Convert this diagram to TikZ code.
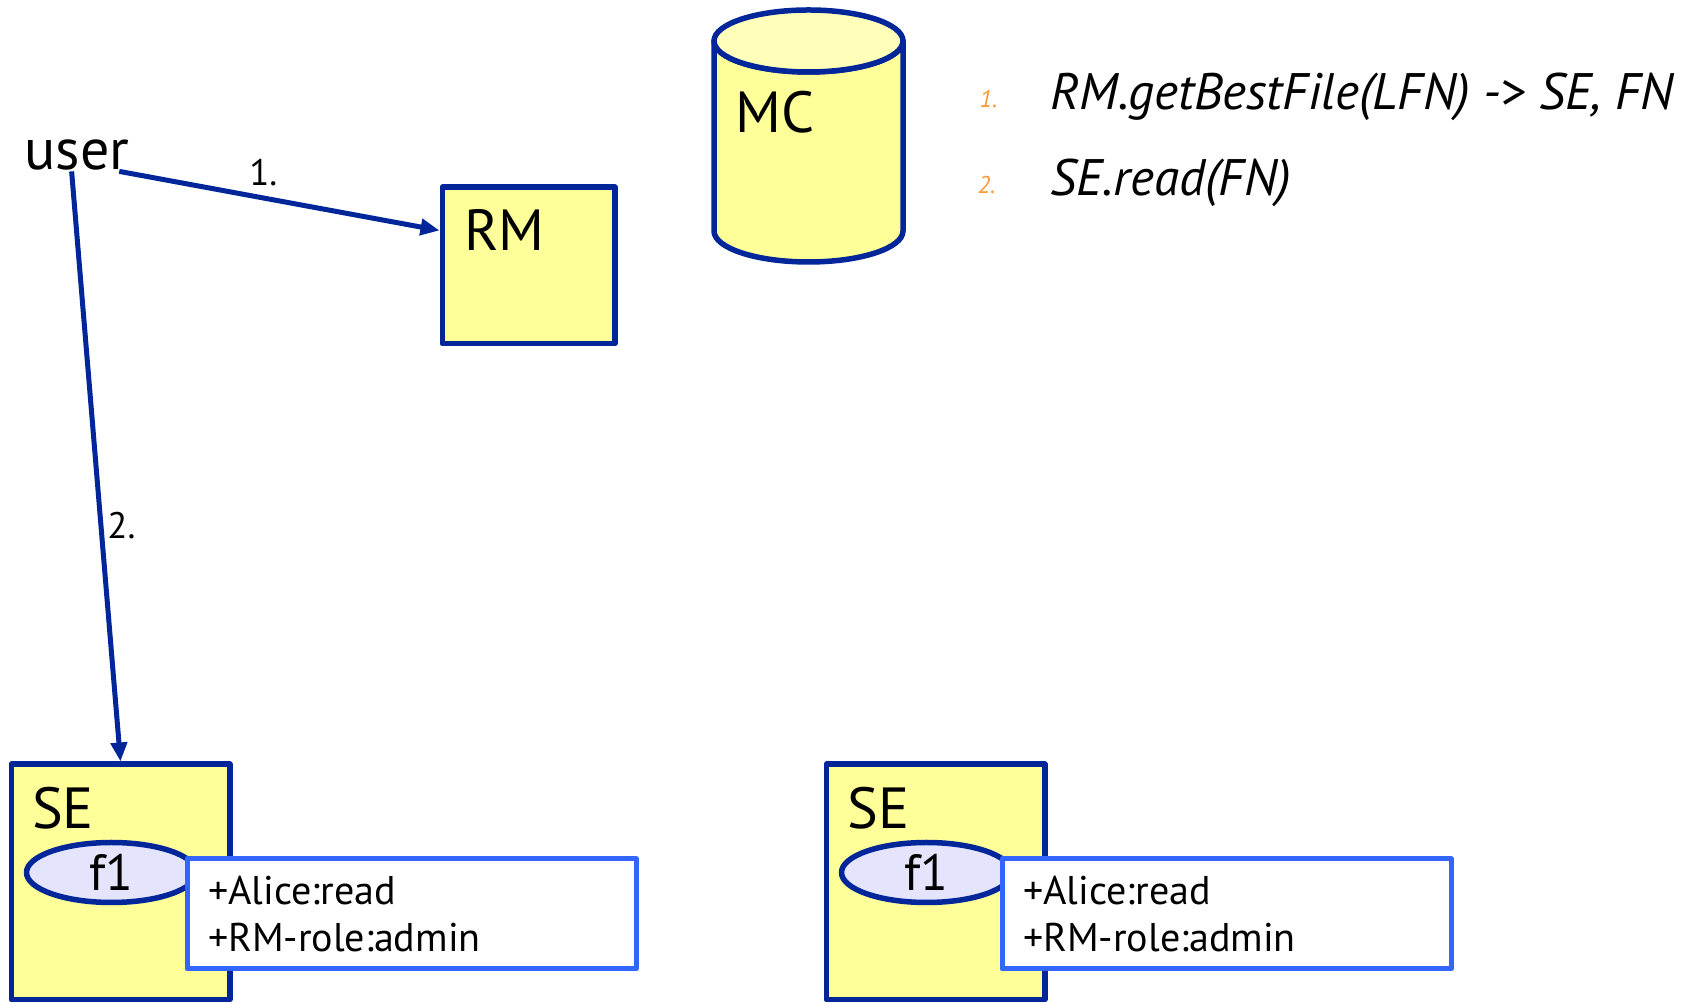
\documentclass[tikz,border=0pt]{standalone}
\usepackage{fontspec}
\setmainfont{PT Sans}
\usetikzlibrary{shapes.geometric,arrows.meta,positioning}
\definecolor{seblue}{RGB}{0,38,153}
\definecolor{seyellow}{RGB}{255,255,153}
\definecolor{topyellow}{RGB}{255,255,185}
\definecolor{filelav}{RGB}{228,228,252}
\definecolor{aclblue}{RGB}{51,102,255}
\definecolor{steporange}{RGB}{255,153,51}
\newcommand\biglbl{\fontsize{16.5}{19}\selectfont}
\newcommand\filelbl{\fontsize{14.5}{17}\selectfont}
\newcommand\acllbl{\fontsize{11.4}{13.1}\selectfont}
\newcommand\arrlbl{\fontsize{10.5}{12}\selectfont}
\newcommand\steplbl{\fontsize{14.6}{17}\selectfont\itshape}
\newcommand\stepnumlbl{\fontsize{6.9}{8}\selectfont\itshape}
\begin{document}
\begin{tikzpicture}[line join=round, >={Triangle[length=0.19cm,width=0.16cm]}]
	\tikzset{box/.style={draw=seblue, fill=seyellow, line width=0.055cm, inner sep=0},
		boxlbl/.style={font=\biglbl, inner sep=0},
		cyl/.style={draw=seblue, fill=seyellow, line width=0.055cm},
		file/.style={ellipse, draw=seblue, fill=filelav, line width=0.055cm, minimum width=1.70cm, minimum height=0.60cm, inner sep=0, font=\filelbl},
		acl/.style={draw=aclblue, fill=white, line width=0.05cm, minimum height=1.10cm, text width=4.07cm, inner xsep=0.21cm, inner ysep=0, align=left, font=\acllbl},
		conn/.style={->, draw=seblue, line width=0.05cm},
		arrlbl/.style={font=\arrlbl, inner sep=0},
		steptxt/.style={font=\steplbl, inner sep=0},
		stepnum/.style={font=\stepnumlbl, text=steporange, inner sep=0},
		se-group/.pic={
			\node[box, minimum width=2.185cm, minimum height=2.355cm] (-box) at (0,0) {};
			\node[boxlbl, anchor=north west] (-lbl) at ([shift={(0.23,-0.25)}]-box.north west) {SE};
			\node[file] (-file) at (-0.09,0.095) {f1};
			\node[acl] (-acl) at (2.91,-0.32) {+Alice:read\\+RM-role:admin};
	}}
	\useasboundingbox (0,0) rectangle (16.83,-10.03);
	\node[boxlbl, anchor=base west] (user) at (0.24,-1.70) {user};
	\node[box, minimum width=1.725cm, minimum height=1.565cm] (RM) at (5.285,-2.655) {};
	\node[boxlbl, anchor=north west] (RMlbl) at ([shift={(0.24,-0.24)}]RM.north west) {RM};
	% catalogue
	\filldraw[cyl] (7.14,-0.41) -- (7.14,-2.31) arc[start angle=180, end angle=360, x radius=0.945cm, y radius=0.31cm] -- (9.03,-0.41) arc[start angle=0, end angle=-180, x radius=0.945cm, y radius=0.31cm] -- cycle;
	\draw[cyl, fill=topyellow] (8.085,-0.41) ellipse [x radius=0.945cm, y radius=0.31cm];
	\node[boxlbl, anchor=north west] (MC) at (7.35,-0.91) {MC};
	% storage elements
	\pic (SEa) at (1.205,-8.82) {se-group};
	\pic (SEb) at (9.355,-8.82) {se-group};
	% calls
	\draw[conn] ([xshift=-0.11cm]user.south east) -- node[arrlbl, pos=0.45, above=0.1cm] (n1) {1.} ([yshift=-0.46cm]RM.north west);
	\draw[conn] ([xshift=-0.055cm]user.south) -- node[arrlbl, pos=0.6, right=0.04cm] (n2) {2.} (SEa-box.north);
	% steps
	\node[steptxt, anchor=base west] (s1) at (10.50,-1.10) {RM.getBestFile(LFN) -> SE, FN};
	\node[stepnum, anchor=base west] (k1) at (9.79,-1.08) {1.};
	\node[steptxt, anchor=base west] (s2) at (10.50,-1.96) {SE.read(FN)};
	\node[stepnum, anchor=base west] (k2) at (9.77,-1.94) {2.};
\end{tikzpicture}
\end{document}
